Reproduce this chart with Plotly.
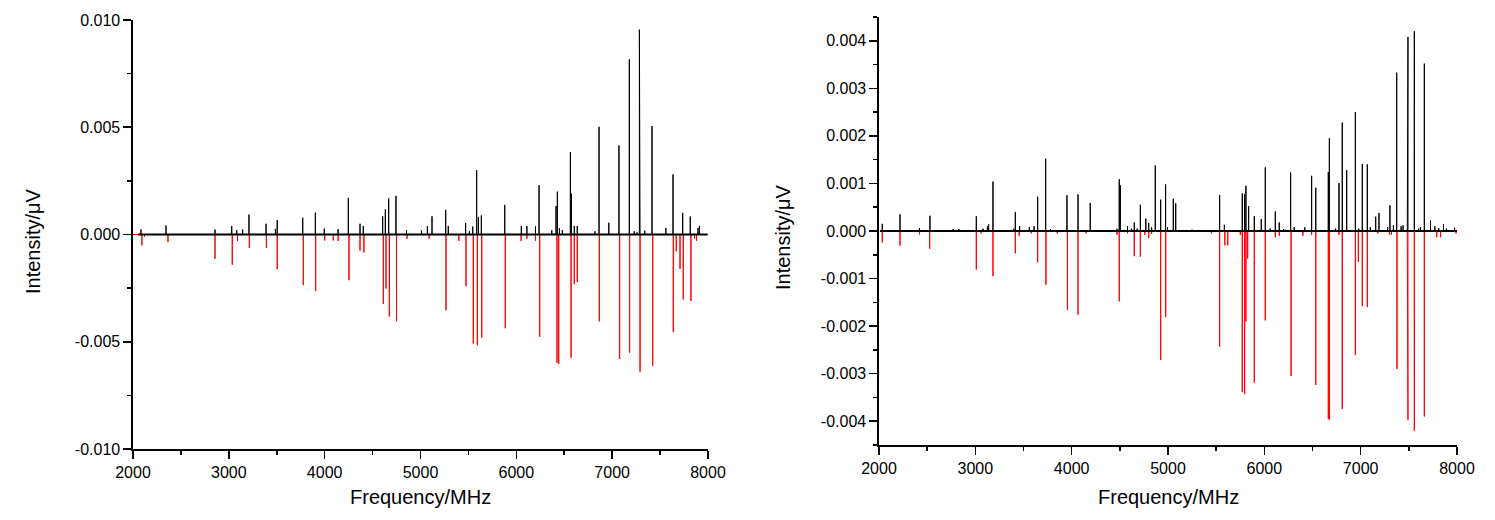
import plotly.graph_objects as go

# ---------------- data ----------------
# Left panel: experimental (black, positive) and simulated (red, negative)
left_exp_freq = [2083, 2344, 2856, 3030, 3082, 3144, 3210, 3388, 3486, 3505, 3771, 3903, 3996, 4140,
                 4247, 4369, 4403, 4605, 4633, 4668, 4744, 4854, 5010, 5072, 5120, 5263, 5290, 5471,
                 5510, 5545, 5586, 5604, 5635, 5879, 6052, 6110, 6200, 6237, 6370, 6414, 6428, 6450,
                 6480, 6564, 6575, 6605, 6636, 6820, 6863, 6965, 7071, 7179, 7230, 7260, 7284, 7291,
                 7340, 7416, 7560, 7635, 7736, 7815, 7895, 7910]
left_exp_int = [0.00023, 0.00042, 0.00023, 0.00040, 0.00020, 0.00023, 0.00093, 0.00050, 0.00026,
                0.00067, 0.00078, 0.00102, 0.00027, 0.00025, 0.00171, 0.00050, 0.00040, 0.00085,
                0.00117, 0.00168, 0.00180, 0.00020, 0.00020, 0.00039, 0.00085, 0.00115, 0.00040,
                0.00054, 0.00015, 0.00037, 0.00300, 0.00082, 0.00089, 0.00138, 0.00039, 0.00040,
                0.00038, 0.00230, 0.00020, 0.00132, 0.00200, 0.00030, 0.00020, 0.00384, 0.00190,
                0.00040, 0.00040, 0.00015, 0.00502, 0.00055, 0.00415, 0.00816, 0.00015, 0.00010,
                0.00955, 0.00742, 0.00018, 0.00505, 0.00030, 0.00280, 0.00101, 0.00084, 0.00030,
                0.00040]
left_sim_freq = [2093, 2120, 2365, 2856, 3036, 3090, 3214, 3392, 3505, 3777, 3906, 4000, 4090, 4140,
                 4254, 4369, 4410, 4612, 4640, 4675, 4750, 4860, 5090, 5266, 5400, 5475, 5551, 5593,
                 5639, 5885, 6050, 6110, 6200, 6244, 6424, 6442, 6571, 6605, 6636, 6866, 7078, 7182,
                 7291, 7423, 7638, 7669, 7708, 7742, 7822, 7860, 7880]
left_sim_int = [-0.00051, -0.00010, -0.00036, -0.00113, -0.00141, -0.00030, -0.00062, -0.00062,
                -0.00162, -0.00236, -0.00264, -0.00028, -0.00028, -0.00030, -0.00213, -0.00075,
                -0.00084, -0.00324, -0.00252, -0.00383, -0.00405, -0.00020, -0.00020, -0.00353,
                -0.00030, -0.00241, -0.00508, -0.00517, -0.00481, -0.00437, -0.00030, -0.00020,
                -0.00030, -0.00477, -0.00598, -0.00604, -0.00575, -0.00232, -0.00222, -0.00405,
                -0.00580, -0.00551, -0.00640, -0.00612, -0.00455, -0.00079, -0.00160, -0.00303,
                -0.00310, -0.00020, -0.00030]
left_exp_span = [2050, 7995]
left_sim_span = [2000, 7995]

# Right panel
right_exp_freq = [2034, 2218, 2420, 2529, 2770, 2830, 3010, 3080, 3125, 3138, 3183, 3400, 3415, 3460,
                  3560, 3610, 3647, 3730, 3780, 3951, 4066, 4193, 4470, 4494, 4505, 4580, 4620, 4650,
                  4680, 4713, 4770, 4800, 4830, 4868, 4924, 4975, 4995, 5055, 5080, 5250, 5536, 5585,
                  5771, 5796, 5809, 5837, 5896, 5968, 6010, 6060, 6114, 6155, 6200, 6273, 6310, 6420,
                  6491, 6534, 6664, 6675, 6740, 6775, 6809, 6855, 6945, 6980, 7017, 7069, 7100, 7156,
                  7190, 7280, 7304, 7340, 7374, 7420, 7440, 7484, 7491, 7557, 7600, 7620, 7661, 7725,
                  7770, 7810, 7860, 7890, 7975]
right_exp_int = [0.00015, 0.00035, 0.00006, 0.00032, 0.00004, 0.00004, 0.00031, 0.00005, 0.00010,
                 0.00014, 0.00104, 0.00005, 0.00040, 0.00010, 0.00008, 0.00010, 0.00072, 0.00152,
                 0.00004, 0.00075, 0.00077, 0.00059, 0.00005, 0.00109, 0.00096, 0.00010, 0.00005,
                 0.00018, 0.00005, 0.00055, 0.00026, 0.00017, 0.00008, 0.00138, 0.00066, 0.00098,
                 0.00008, 0.00068, 0.00058, 0.00003, 0.00076, 0.00013, 0.00079, 0.00078, 0.00095,
                 0.00052, 0.00031, 0.00025, 0.00134, 0.00005, 0.00041, 0.00018, 0.00004, 0.00123,
                 0.00008, 0.00008, 0.00116, 0.00091, 0.00124, 0.00195, 0.00005, 0.00101, 0.00228,
                 0.00128, 0.00250, 0.00005, 0.00141, 0.00140, 0.00008, 0.00030, 0.00038, 0.00008,
                 0.00054, 0.00012, 0.00333, 0.00010, 0.00012, 0.00376, 0.00408, 0.00420, 0.00005,
                 0.00008, 0.00352, 0.00022, 0.00010, 0.00006, 0.00014, 0.00005, 0.00007]
right_sim_freq = [2034, 2218, 2420, 2526, 3010, 3060, 3183, 3415, 3455, 3580, 3647, 3733, 3850, 3956,
                  4066, 4150, 4470, 4494, 4580, 4650, 4713, 4760, 4800, 4830, 4924, 4976, 5450, 5536,
                  5590, 5620, 5750, 5771, 5796, 5809, 5827, 5896, 6010, 6114, 6155, 6277, 6400, 6491,
                  6534, 6664, 6675, 6775, 6809, 6945, 6976, 7017, 7069, 7180, 7300, 7320, 7377, 7484,
                  7491, 7557, 7661, 7790, 7830, 7990]
right_sim_int = [-0.00024, -0.00031, -0.00007, -0.00037, -0.00081, -0.00005, -0.00095, -0.00047,
                 -0.00010, -0.00005, -0.00066, -0.00113, -0.00005, -0.00166, -0.00176, -0.00005,
                 -0.00008, -0.00148, -0.00005, -0.00053, -0.00054, -0.00008, -0.00015, -0.00006,
                 -0.00271, -0.00181, -0.00005, -0.00243, -0.00030, -0.00030, -0.00008, -0.00339,
                 -0.00343, -0.00190, -0.00058, -0.00319, -0.00188, -0.00013, -0.00010, -0.00305,
                 -0.00010, -0.00008, -0.00324, -0.00395, -0.00397, -0.00008, -0.00374, -0.00261,
                 -0.00065, -0.00158, -0.00160, -0.00005, -0.00008, -0.00008, -0.00290, -0.00360,
                 -0.00397, -0.00420, -0.00390, -0.00013, -0.00013, -0.00005]
right_exp_span = [2010, 8000]
right_sim_span = [2010, 8000]

x_ticks = [2000, 3000, 4000, 5000, 6000, 7000, 8000]
x_ticktext = ["2000", "3000", "4000", "5000", "6000", "7000", "8000"]
left_y_ticks = [-0.010, -0.005, 0.0, 0.005, 0.010]
left_y_ticktext = ["-0.010", "-0.005", "0.000", "0.005", "0.010"]
right_y_ticks = [-0.004, -0.003, -0.002, -0.001, 0.0, 0.001, 0.002, 0.003, 0.004]
right_y_ticktext = ["-0.004", "-0.003", "-0.002", "-0.001", "0.000", "0.001", "0.002", "0.003", "0.004"]
x_title = "Frequency/MHz"
y_title = "Intensity/\u03bcV"


def stick_trace(freqs, ints, span):
    """Continuous stick spectrum: baseline at zero with a vertical stick per line."""
    pairs = sorted(zip(freqs, ints))
    xs, ys = [span[0]], [0.0]
    for f, h in pairs:
        xs += [f, f, f]
        ys += [0.0, h, 0.0]
    xs.append(span[1])
    ys.append(0.0)
    return xs, ys


W, H = 1495, 520
FONT = "Liberation Sans, Arial, sans-serif"

fig = go.Figure()

panels = [
    ("x", "y", left_exp_freq, left_exp_int, left_exp_span, left_sim_freq, left_sim_int, left_sim_span),
    ("x2", "y2", right_exp_freq, right_exp_int, right_exp_span, right_sim_freq, right_sim_int, right_sim_span),
]
for xa, ya, ef, ei, es, sf, si, ss in panels:
    sx, sy = stick_trace(sf, si, ss)
    fig.add_trace(go.Scatter(x=sx, y=sy, mode="lines", xaxis=xa, yaxis=ya,
                             line=dict(color="#ff0000", width=1), hoverinfo="skip", showlegend=False))
    ex, ey = stick_trace(ef, ei, es)
    fig.add_trace(go.Scatter(x=ex, y=ey, mode="lines", xaxis=xa, yaxis=ya,
                             line=dict(color="#000000", width=1), hoverinfo="skip", showlegend=False))
    # thicker noisy baseline of the measured trace
    fig.add_trace(go.Scatter(x=es, y=[0.0, 0.0], mode="lines", xaxis=xa, yaxis=ya,
                             line=dict(color="#000000", width=2), hoverinfo="skip", showlegend=False))

axis_common = dict(showgrid=False, zeroline=False, showline=True, linecolor="black", linewidth=1.6,
                   ticks="outside", ticklen=8, tickwidth=1.6, tickcolor="black", automargin=False,
                   tickfont=dict(family=FONT, size=16, color="black"), mirror=False)

fig.update_layout(
    template="none",
    width=W, height=H, paper_bgcolor="white", plot_bgcolor="white",
    font=dict(family=FONT, color="black"),
    margin=dict(l=0, r=0, t=0, b=0, pad=0, autoexpand=False), showlegend=False,
    xaxis=dict(domain=[133 / W, 708 / W], range=[2000, 8000], anchor="y",
               tickmode="array", tickvals=x_ticks, ticktext=x_ticktext,
               minor=dict(tickmode="linear", tick0=2000, dtick=500, ticks="outside", ticklen=4,
                          tickwidth=1.6, tickcolor="black", showgrid=False),
               **axis_common),
    yaxis=dict(domain=[1 - 449 / H, 1 - 20 / H], range=[-0.010, 0.010], anchor="x",
               tickmode="array", tickvals=left_y_ticks, ticktext=left_y_ticktext,
               minor=dict(tickmode="linear", tick0=0, dtick=0.0025, ticks="outside", ticklen=4,
                          tickwidth=1.6, tickcolor="black", showgrid=False),
               **axis_common),
    xaxis2=dict(domain=[879 / W, 1457 / W], range=[2000, 8000], anchor="y2",
                tickmode="array", tickvals=x_ticks, ticktext=x_ticktext,
                minor=dict(tickmode="linear", tick0=2000, dtick=500, ticks="outside", ticklen=4,
                           tickwidth=1.6, tickcolor="black", showgrid=False),
                **axis_common),
    yaxis2=dict(domain=[1 - 445 / H, 1 - 17 / H], range=[-0.0045, 0.0045], anchor="x2",
                tickmode="array", tickvals=right_y_ticks, ticktext=right_y_ticktext,
                minor=dict(tickmode="linear", tick0=0, dtick=0.0005, ticks="outside", ticklen=4,
                           tickwidth=1.6, tickcolor="black", showgrid=False),
                **axis_common),
)

title_font = dict(family=FONT, size=20, color="black")
annos = [
    dict(text=x_title, x=420.5 / W, y=1 - 497 / H),
    dict(text=x_title, x=1168 / W, y=1 - 497 / H),
    dict(text=y_title, x=33 / W, y=1 - 241 / H, textangle=-90),
    dict(text=y_title, x=783 / W, y=1 - 237 / H, textangle=-90),
]
for a in annos:
    fig.add_annotation(xref="paper", yref="paper", showarrow=False, xanchor="center", yanchor="middle",
                       font=title_font, **a)

# remove the default page margin so the figure sits at the window origin
fig.write_html("out.html",
               config={"displayModeBar": False, "staticPlot": True},
               post_script="document.body.style.margin='0px';document.body.style.overflow='hidden';")
